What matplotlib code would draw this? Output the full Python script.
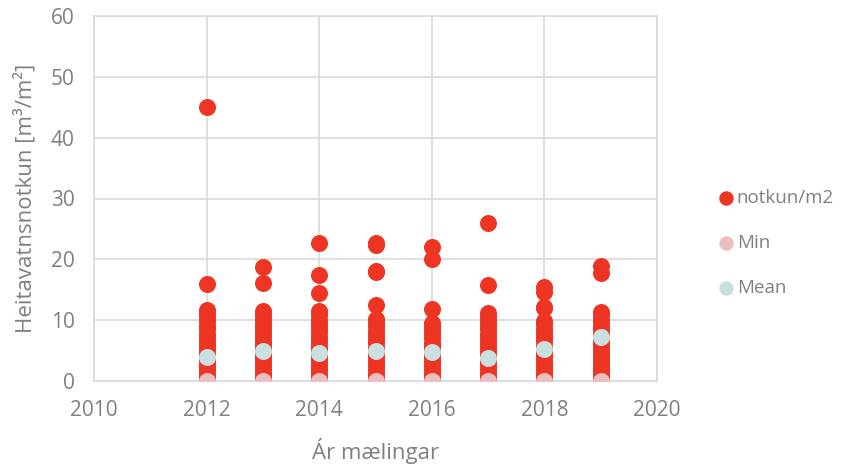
import matplotlib
matplotlib.use("Agg")
import matplotlib.pyplot as plt

# ─── Daten ────────────────────────────────────────────────────────────────────
years = [2012, 2013, 2014, 2015, 2016, 2017, 2018, 2019]

notkun = {
    2012: [45.1, 15.9, 11.6, 11.1, 10.5, 9.8, 9.1, 8.5, 7.8, 7.1, 6.4, 5.8,
           5.1, 4.5, 3.9, 3.3, 2.7, 2.1, 1.6, 1.0, 0.5, 0.2, 0.0],
    2013: [18.7, 16.1, 11.5, 10.9, 10.2, 9.6, 8.9, 8.2, 7.6, 6.9, 6.2, 5.6,
           4.9, 4.3, 3.7, 3.1, 2.5, 1.9, 1.3, 0.8, 0.4, 0.0],
    2014: [22.7, 17.5, 14.4, 11.5, 10.8, 10.1, 9.4, 8.7, 8.0, 7.3, 6.6, 5.9,
           5.2, 4.6, 4.0, 3.4, 2.8, 2.2, 1.6, 1.0, 0.5, 0.0],
    2015: [22.7, 22.3, 18.1, 18.0, 12.5, 10.2, 9.6, 9.0, 8.3, 7.6, 6.9, 6.2,
           5.5, 4.9, 4.2, 3.6, 3.0, 2.4, 1.8, 1.2, 0.6, 0.0],
    2016: [22.1, 20.1, 11.9, 9.6, 9.0, 8.4, 7.7, 7.0, 6.3, 5.7, 5.1, 4.5,
           3.9, 3.3, 2.7, 2.1, 1.5, 1.0, 0.5, 0.0],
    2017: [26.0, 15.7, 11.1, 10.5, 9.9, 9.2, 8.5, 7.8, 7.1, 6.4, 5.8, 5.1,
           4.5, 3.9, 3.3, 2.7, 2.1, 1.5, 1.0, 0.5, 0.0],
    2018: [15.4, 14.7, 12.2, 12.0, 9.9, 9.3, 8.6, 7.9, 7.2, 6.5, 5.8, 5.1,
           4.5, 3.9, 3.3, 2.7, 2.1, 1.5, 1.0, 0.5, 0.0],
    2019: [18.9, 17.8, 11.4, 10.8, 10.1, 9.4, 8.7, 8.0, 7.3, 6.6, 5.9, 5.2,
           4.6, 4.0, 3.4, 2.8, 2.2, 1.6, 1.0, 0.5, 0.0],
}
min_vals  = [0.0, 0.0, 0.0, 0.0, 0.0, 0.0, 0.0, 0.0]
mean_vals = [4.0, 4.9, 4.6, 4.9, 4.8, 3.8, 5.3, 7.2]

x_ticks = [2010, 2012, 2014, 2016, 2018, 2020]
y_ticks = [0, 10, 20, 30, 40, 50, 60]

# ─── Stil ─────────────────────────────────────────────────────────────────────
plt.rcParams["font.family"] = ["Open Sans", "DejaVu Sans"]
GRAU   = "#7f7f85"
GITTER = "#d9d9d9"
ROT    = "#ee3524"
ROSA   = "#ebbfc0"
BLAU   = "#c9dfe0"

fig = plt.figure(figsize=(8.53, 4.68), dpi=100)
ax = fig.add_axes([94 / 853, 1 - 381 / 468, (657 - 94) / 853, (381 - 16) / 468])

xs, ys = [], []
for jahr in years:
    xs += [jahr] * len(notkun[jahr])
    ys += notkun[jahr]

S = 150
ax.scatter(xs, ys, s=S, color=ROT, linewidths=0, zorder=3, label="notkun/m2")
ax.scatter(years, min_vals, s=S, color=ROSA, linewidths=0, zorder=4, label="Min")
ax.scatter(years, mean_vals, s=S, color=BLAU, linewidths=0, zorder=5, label="Mean")

ax.set_xlim(2010, 2020)
ax.set_ylim(0, 60)
ax.set_xticks(x_ticks)
ax.set_yticks(y_ticks)
ax.grid(True, color=GITTER, linewidth=1.2, zorder=0)
ax.set_axisbelow(True)
for sp in ax.spines.values():
    sp.set_color(GITTER)
    sp.set_linewidth(1.2)
ax.tick_params(length=0, labelsize=15, labelcolor=GRAU)
ax.tick_params(axis="y", pad=14)
ax.tick_params(axis="x", pad=14)

ax.set_xlabel("Ár mælingar", fontsize=16, color=GRAU, labelpad=12)
ax.set_ylabel("Heitavatnsnotkun [m³/m²]", fontsize=16, color=GRAU, labelpad=10)

leg = ax.legend(loc="center left", bbox_to_anchor=(1.09, 0.378), frameon=False,
                fontsize=13.5, markerscale=0.85, handlelength=1.0,
                handletextpad=0.05, labelspacing=1.45, borderpad=0)
for t in leg.get_texts():
    t.set_color(GRAU)

plt.savefig("out.png", dpi=100)
plt.close()
